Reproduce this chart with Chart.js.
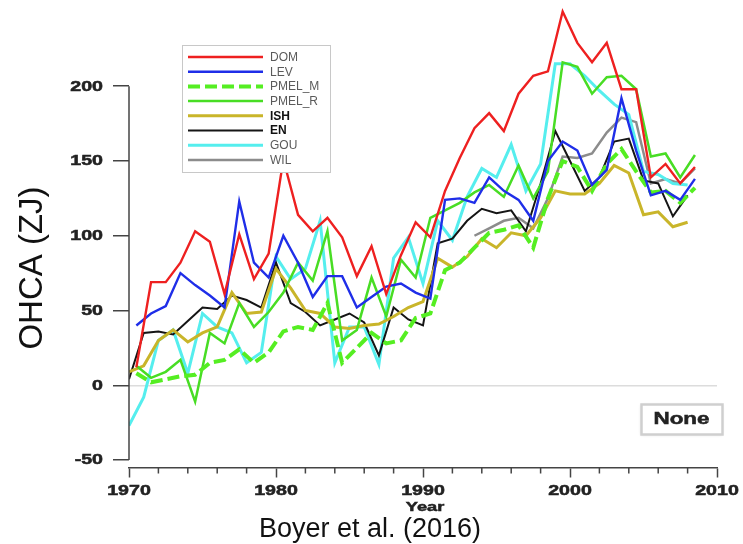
<!DOCTYPE html>
<html>
<head>
<meta charset="utf-8">
<script src="https://cdn.jsdelivr.net/npm/chart.js@4.4.1/dist/chart.umd.min.js"></script>
<style>
  body { margin: 0; background: #fff; }
  canvas { display: block; }
</style>
</head>
<body>
<canvas id="ohca" width="743" height="544"></canvas>
<script>
// OHCA (ZJ), Boyer et al. (2016)

const years = [1970, 1971, 1972, 1973, 1974, 1975, 1976, 1977, 1978, 1979,
  1980, 1981, 1982, 1983, 1984, 1985, 1986, 1987, 1988, 1989,
  1990, 1991, 1992, 1993, 1994, 1995, 1996, 1997, 1998, 1999,
  2000, 2001, 2002, 2003, 2004, 2005, 2006, 2007, 2008];

const dom = [12, 69, 69, 82, 103, 96, 61, 101, 71, 88,
  151, 114, 103, 112, 99, 73, 93, 61, 87, 109,
  99, 130, 152, 172, 182, 170, 195, 207, 210, 250,
  229, 216, 229, 198, 198, 139, 148, 135, 146];

const lev = [40, 48, 53, 75, 67, 60, 52, 123, 82, 72,
  100, 82, 59, 73, 73, 52, 59, 66, 68, 62,
  58, 124, 125, 122, 139, 130, 124, 110, 150, 163,
  157, 134, 144, 192, 157, 127, 130, 124, 138];

const pmelM = [8, 2, 4, 6, 7, 15, 17, 24, 15, 22,
  36, 39, 37, 55, 15, 25, 35, 28, 30, 45,
  48, 77, 82, 92, 102, 104, 107, 92, 125, 150,
  146, 130, 148, 158, 143, 129, 130, 122, 132];

const pmelR = [13, 5, 9, 17, -11, 35, 28, 55, 39, 49,
  62, 82, 70, 103, 30, 37, 72, 46, 84, 72,
  112, 117, 122, 129, 134, 126, 147, 125, 143, 216,
  213, 195, 206, 207, 198, 153, 155, 139, 154];

const ish = [9, 13, 30, 37, 29, 35, 39, 62, 48, 49,
  78, 65, 50, 48, 39, 38, 40, 41, 46, 52,
  56, 85, 79, 86, 98, 92, 102, 100, 112, 130,
  128, 128, 135, 147, 142, 114, 116, 106, 109];

const en = [4, 35, 36, 34, 43, 52, 51, 60, 57, 52,
  82, 55, 49, 40, 44, 48, 42, 20, 52, 44,
  40, 95, 98, 110, 118, 115, 117, 103, 135, 170,
  150, 130, 139, 163, 165, 137, 135, 113, 127];

const gou = [-27, -8, 30, 37, 8, 48, 39, 35, 15, 22,
  86, 71, 78, 110, 15, 39, 39, 14, 85, 99,
  68, 110, 97, 126, 145, 139, 161, 130, 148, 215,
  215, 207, 197, 188, 181, 143, 141, 135, 134];

const wil = [null, null, null, null, null, null, null, null, null, null,
  null, null, null, null, null, null, null, null, null, null,
  null, null, null, 100, 105, 110, 112, 105, 125, 153,
  152, 155, 169, 179, 176, 135, 138, 135, 145];

const yTicks = [-50, 0, 50, 100, 150, 200];
const xLabels = [1970, 1980, 1990, 2000, 2010];

const FONT = "'Liberation Sans', Arial, sans-serif";
const STRETCH = 1.4; // axis lettering in the source is drawn wide

// some products are annual means plotted mid-year, others at the year mark
function pts(vals, shift) {
  return vals.map((v, i) => ({ x: years[i] + shift, y: v }));
}

function series(label, vals, shift, color, width, dash) {
  return {
    label: label,
    data: pts(vals, shift),
    borderColor: color,
    borderWidth: width,
    borderDash: dash || [],
    pointRadius: 0,
    tension: 0,
    fill: false,
    spanGaps: false,
  };
}

const datasets = [
  series("DOM", dom, 0.5, "#ee2020", 2.4),
  series("LEV", lev, 0.5, "#1f2ee8", 2.4),
  series("PMEL_M", pmelM, 0.5, "#55ee22", 4, [12, 5]),
  series("PMEL_R", pmelR, 0.5, "#48dd24", 2.5),
  series("ISH", ish, 0, "#c9b52a", 3),
  series("EN", en, 0, "#151515", 2),
  series("GOU", gou, 0, "#55eeee", 3),
  series("WIL", wil, 0.5, "#8c8c8c", 2.5),
];

function wideText(ctx, text, x, y, size, align) {
  ctx.save();
  ctx.font = "bold " + size + "px " + FONT;
  ctx.translate(x, y);
  ctx.scale(STRETCH, 1);
  ctx.textAlign = align;
  ctx.textBaseline = "middle";
  ctx.lineWidth = 0.5;
  ctx.strokeStyle = ctx.fillStyle;
  ctx.fillText(text, 0, 0);
  ctx.strokeText(text, 0, 0);
  ctx.restore();
}

/* ---------- extra drawing: axis line, labels, legend, boxes ---------- */

const extras = {
  id: "extras",
  afterDraw(chart) {
    const { ctx, chartArea } = chart;
    const x = chart.scales.x;
    const y = chart.scales.y;
    ctx.save();

    // y axis only spans the labelled range
    ctx.strokeStyle = "#444";
    ctx.lineWidth = 1.5;
    ctx.beginPath();
    ctx.moveTo(chartArea.left, y.getPixelForValue(yTicks[yTicks.length - 1]));
    ctx.lineTo(chartArea.left, y.getPixelForValue(yTicks[0]));
    ctx.stroke();

    // minor x ticks every 2 years
    for (let yr = 1972; yr < 2010; yr += 2) {
      if (yr % 10 === 0) continue;
      const px = x.getPixelForValue(yr);
      ctx.beginPath();
      ctx.moveTo(px, chartArea.bottom);
      ctx.lineTo(px, chartArea.bottom + 6);
      ctx.stroke();
    }

    // tick labels + x title
    ctx.fillStyle = "#222";
    yTicks.forEach((v) => wideText(ctx, String(v), 103, y.getPixelForValue(v) + 0.5, 14, "right"));
    xLabels.forEach((v) => wideText(ctx, String(v), x.getPixelForValue(v), 491, 14, "center"));
    wideText(ctx, "Year", (chartArea.left + chartArea.right) / 2 + 2, 507, 13, "center");

    // legend box
    const lx = 182, ly = 45, lw = 148, lh = 127;
    ctx.fillStyle = "#fff";
    ctx.fillRect(lx, ly, lw, lh);
    ctx.strokeStyle = "#c8c8c8";
    ctx.lineWidth = 1;
    ctx.strokeRect(lx + 0.5, ly + 0.5, lw, lh);
    chart.data.datasets.forEach((ds, i) => {
      const rowY = 57 + i * 14.7;
      ctx.strokeStyle = ds.borderColor;
      ctx.lineWidth = ds.borderWidth;
      ctx.setLineDash(ds.borderDash || []);
      ctx.beginPath();
      ctx.moveTo(188, rowY);
      ctx.lineTo(263, rowY);
      ctx.stroke();
      ctx.setLineDash([]);
      const bold = ds.label === "ISH" || ds.label === "EN";
      ctx.font = (bold ? "bold " : "") + "12px " + FONT;
      ctx.fillStyle = bold ? "#111" : "#5a5a5a";
      ctx.textAlign = "left";
      ctx.textBaseline = "middle";
      ctx.fillText(ds.label, 270, rowY + 0.5);
    });

    // "None" box
    ctx.shadowColor = "rgba(0,0,0,0.15)";
    ctx.shadowBlur = 3;
    ctx.shadowOffsetY = 1;
    ctx.fillStyle = "#fff";
    ctx.fillRect(641, 404, 81, 30);
    ctx.shadowColor = "transparent";
    ctx.strokeStyle = "#cfcfcf";
    ctx.strokeRect(641.5, 404.5, 81, 30);
    ctx.fillStyle = "#222";
    wideText(ctx, "None", 681.5, 420, 16, "center");

    // source caption under the axis
    ctx.fillStyle = "#111";
    ctx.font = "27px " + FONT;
    ctx.textAlign = "center";
    ctx.textBaseline = "middle";
    ctx.fillText("Boyer et al. (2016)", 370, 530);

    // y axis title, centred on the drawn axis
    ctx.translate(33, 268);
    ctx.rotate(-Math.PI / 2);
    ctx.font = "33px " + FONT;
    ctx.fillText("OHCA (ZJ)", 0, 0);

    ctx.restore();
  },
};

/* ---------- chart ---------- */

new Chart(document.getElementById("ohca"), {
  type: "line",
  data: { datasets: datasets },
  plugins: [extras],
  options: {
    responsive: false,
    animation: false,
    devicePixelRatio: 1,
    layout: { padding: { left: 0, right: 26, top: 4, bottom: 28 } },
    plugins: {
      legend: { display: false },
      tooltip: { enabled: false },
      title: { display: false },
    },
    scales: {
      x: {
        type: "linear",
        min: 1970,
        max: 2010,
        afterFit(s) {
          s.height = 48.5;
          s.paddingLeft = 0;
          s.paddingRight = 0;
        },
        border: { display: true, color: "#444", width: 1.5 },
        grid: {
          drawOnChartArea: false,
          tickLength: 10,
          tickWidth: 1.5,
          tickColor: (c) => (c.tick && xLabels.includes(c.tick.value) ? "#444" : "transparent"),
        },
        ticks: { stepSize: 2, autoSkip: false, display: false },
      },
      y: {
        min: -55,
        max: 255,
        afterFit(s) {
          s.width = 129;
          s.paddingTop = 0;
          s.paddingBottom = 0;
        },
        afterBuildTicks(s) {
          s.ticks = yTicks.map((v) => ({ value: v }));
        },
        border: { display: false },
        grid: {
          drawOnChartArea: true,
          color: (c) => (c.tick && c.tick.value === 0 ? "#dcdcdc" : "transparent"),
          lineWidth: 1.5,
          tickLength: 16,
          tickWidth: 1.5,
          tickColor: "#444",
        },
        ticks: { display: false },
      },
    },
  },
});
</script>
</body>
</html>
